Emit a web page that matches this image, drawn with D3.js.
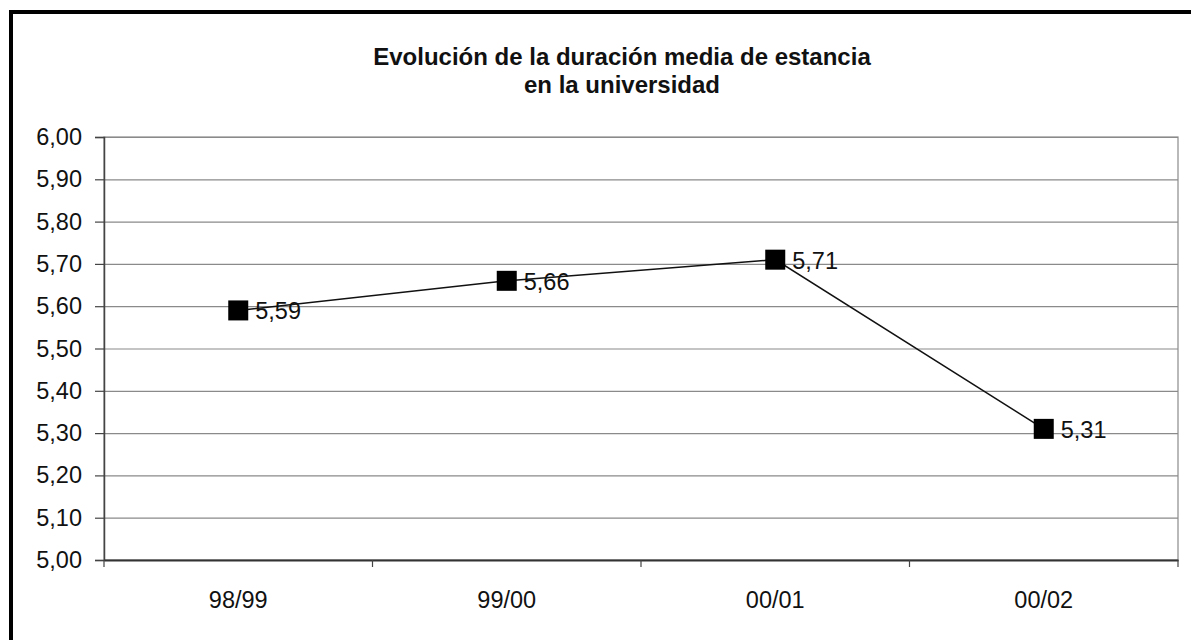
<!DOCTYPE html>
<html>
<head>
<meta charset="utf-8">
<script src="https://cdn.jsdelivr.net/npm/d3@7"></script>
<style>
  html, body { margin: 0; padding: 0; background: #fff; overflow: hidden; }
  text { font-family: "Liberation Sans", Arial, sans-serif; fill: #111; }
</style>
</head>
<body>
<div id="chart"></div>
<script>
var categories = ['98/99', '99/00', '00/01', '00/02'];
var values = [5.59, 5.66, 5.71, 5.31];
var yTicks = [5.00, 5.10, 5.20, 5.30, 5.40, 5.50, 5.60, 5.70, 5.80, 5.90, 6.00];
var titleLines = ['Evolución de la duración media de estancia', 'en la universidad'];

var W = 1191, H = 640;
var plot = { left: 104, right: 1178, top: 137, bottom: 560 };

// spanish number format: 5,59
var locale = d3.formatLocale({ decimal: ',', thousands: '.', grouping: [3], currency: ['', ' €'] });
var fmt = locale.format('.2f');

var svg = d3.select('#chart')
    .append('svg')
    .attr('width', W)
    .attr('height', H);

svg.append('rect')
    .attr('width', W)
    .attr('height', H)
    .attr('fill', '#fff');

// outer frame (right and bottom sides fall off the picture)
svg.append('rect')
    .attr('x', 11)
    .attr('y', 12)
    .attr('width', W + 40)
    .attr('height', H + 40)
    .attr('fill', 'none')
    .attr('stroke', '#000')
    .attr('stroke-width', 4);

var x = d3.scaleBand()
    .domain(categories)
    .range([plot.left, plot.right]);

var y = d3.scaleLinear()
    .domain([5, 6])
    .range([plot.bottom, plot.top]);

// title
svg.append('text')
    .attr('x', 622)
    .attr('y', 65)
    .attr('text-anchor', 'middle')
    .style('font-size', '24px')
    .style('font-weight', 'bold')
    .selectAll('tspan')
    .data(titleLines)
    .enter()
    .append('tspan')
    .attr('x', 622)
    .attr('dy', function(d, i) { return i === 0 ? 0 : 28; })
    .text(function(d) { return d; });

// gridlines
var grid = svg.append('g')
    .attr('transform', 'translate(' + plot.left + ',0)')
    .call(d3.axisLeft(y).tickValues(yTicks).tickSize(-(plot.right - plot.left)).tickFormat(''));
grid.select('.domain').remove();
grid.selectAll('line')
    .attr('stroke', '#8a8a8a')
    .attr('stroke-width', 1.2);

// plot frame
svg.append('rect')
    .attr('x', plot.left)
    .attr('y', plot.top)
    .attr('width', plot.right - plot.left)
    .attr('height', plot.bottom - plot.top)
    .attr('fill', 'none')
    .attr('stroke', '#8a8a8a')
    .attr('stroke-width', 1.2);

// y axis
var yAxis = svg.append('g')
    .attr('transform', 'translate(' + plot.left + ',0)')
    .call(d3.axisLeft(y).tickValues(yTicks).tickSize(9).tickPadding(13).tickFormat(fmt));
yAxis.select('.domain')
    .attr('stroke', '#444')
    .attr('stroke-width', 1.5);
yAxis.selectAll('line')
    .attr('stroke', '#444')
    .attr('stroke-width', 1.2);
yAxis.selectAll('text')
    .style('font-size', '23.5px')
    .attr('fill', '#111');

// x axis: labels centred in bands, ticks on band edges
var xAxis = svg.append('g')
    .attr('transform', 'translate(0,' + plot.bottom + ')')
    .call(d3.axisBottom(x).tickSize(0).tickPadding(0));
xAxis.select('.domain')
    .attr('stroke', '#333')
    .attr('stroke-width', 1.8);
xAxis.selectAll('text')
    .attr('y', 31)
    .attr('dy', '0.71em')
    .style('font-size', '23.5px')
    .attr('fill', '#111');

var edges = categories.map(function(d) { return x(d); }).concat([x.range()[1]]);
xAxis.selectAll('.edge')
    .data(edges)
    .enter()
    .append('line')
    .attr('class', 'edge')
    .attr('x1', function(d) { return d; })
    .attr('x2', function(d) { return d; })
    .attr('y1', 0)
    .attr('y2', 7)
    .attr('stroke', '#444')
    .attr('stroke-width', 1.2);

// series line
var cx = function(d, i) { return x(categories[i]) + x.bandwidth() / 2; };

var line = d3.line()
    .x(function(d, i) { return cx(d, i); })
    .y(function(d) { return y(d); });

svg.append('path')
    .datum(values)
    .attr('d', line)
    .attr('fill', 'none')
    .attr('stroke', '#111')
    .attr('stroke-width', 1.6);

// markers
svg.selectAll('.marker')
    .data(values)
    .enter()
    .append('rect')
    .attr('class', 'marker')
    .attr('x', function(d, i) { return cx(d, i) - 10; })
    .attr('y', function(d) { return y(d) - 10; })
    .attr('width', 20)
    .attr('height', 20)
    .attr('fill', '#000');

// data labels
svg.selectAll('.dlabel')
    .data(values)
    .enter()
    .append('text')
    .attr('class', 'dlabel')
    .attr('x', function(d, i) { return cx(d, i) + 17; })
    .attr('y', function(d) { return y(d) + 9; })
    .style('font-size', '23.5px')
    .text(function(d) { return fmt(d); });
</script>
</body>
</html>
